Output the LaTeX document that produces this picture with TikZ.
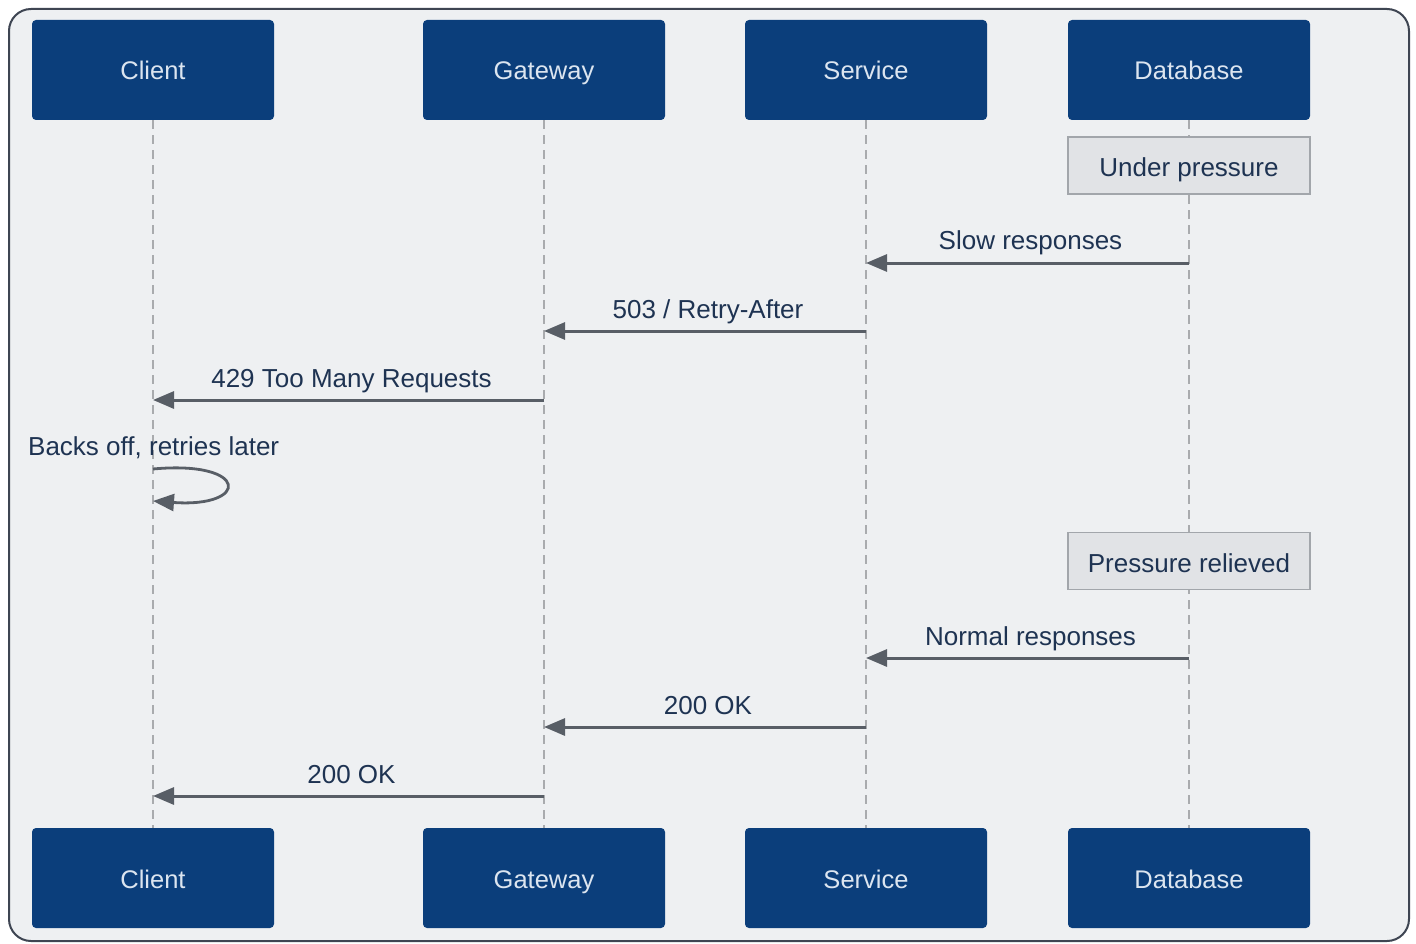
\documentclass[tikz,border=0pt]{standalone}
\usepackage{fontspec}
\setmainfont{Liberation Sans}
\usetikzlibrary{arrows.meta}
\definecolor{navy}{HTML}{0B3E7B}
\definecolor{boxtext}{HTML}{DCE5F0}
\definecolor{panel}{HTML}{EEF0F2}
\definecolor{frameline}{HTML}{3E4552}
\definecolor{msgline}{HTML}{585E66}
\definecolor{msgtext}{HTML}{1E3352}
\definecolor{lifeline}{HTML}{A9ABAE}
\definecolor{notefill}{HTML}{E1E3E6}
\definecolor{noteline}{HTML}{A2A6AB}
\tikzset{
  actor/.style={draw=none, fill=navy, rounded corners=4pt, minimum width=242pt,
    minimum height=100pt, text=boxtext, font=\fontsize{25.5}{30}\selectfont, inner sep=0pt,
    text height=20pt, text depth=0pt},
  notebox/.style={draw=noteline, line width=1.5pt, fill=notefill, minimum width=242pt,
    minimum height=57pt, text=msgtext, font=\fontsize{26}{30}\selectfont, inner sep=0pt,
    text height=22pt, text depth=0pt},
  life/.style={draw=lifeline, line width=1.6pt, dash pattern=on 9pt off 6pt},
  msg/.style={draw=msgline, line width=3pt, -{Triangle[length=21pt,width=17pt]}},
  msglabel/.style={text=msgtext, font=\fontsize{26}{30}\selectfont, inner sep=0pt},
  onarrow/.style={msglabel, anchor=base, yshift=13pt, xshift=3pt}
}
\begin{document}
\begin{tikzpicture}[x=1pt,y=-1pt]
  \useasboundingbox (0,0) rectangle (1416,944);
  \fill[white] (0,0) rectangle (1416,944);
  \draw[frameline, line width=2pt, fill=panel, rounded corners=22pt] (9,9) rectangle (1409,941);

  % participants, top and bottom
  \node[actor] (ct) at (153,70) {Client};
  \node[actor] (gt) at (544,70) {Gateway};
  \node[actor] (st) at (866,70) {Service};
  \node[actor] (dt) at (1189,70) {Database};
  \node[actor] (cb) at (153,878) {Client};
  \node[actor] (gb) at (544,878) {Gateway};
  \node[actor] (sb) at (866,878) {Service};
  \node[actor] (db) at (1189,878) {Database};

  % lifelines
  \draw[life] (ct.south) -- (cb.north);
  \draw[life] (gt.south) -- (gb.north);
  \draw[life] (st.south) -- (sb.north);
  \draw[life] (dt.south) -- (db.north);

  % notes on the database lifeline
  \node[notebox] (n1) at (1189,165.5) {Under pressure};
  \node[notebox] (n2) at (1189,561) {Pressure relieved};

  % anchor points on the lifelines
  \coordinate (d1) at (1189,263); \coordinate (s1) at (866,263);
  \coordinate (s2) at (866,331);  \coordinate (g2) at (544,331);
  \coordinate (g3) at (544,400);  \coordinate (c3) at (153,400);
  \coordinate (c4a) at (153,469); \coordinate (c4b) at (153,501);
  \coordinate (d5) at (1189,658); \coordinate (s5) at (866,658);
  \coordinate (s6) at (866,727);  \coordinate (g6) at (544,727);
  \coordinate (g7) at (544,796);  \coordinate (c7) at (153,796);

  % messages
  \draw[msg] (d1) -- node[onarrow] (l1) {Slow responses} (s1);
  \draw[msg] (s2) -- node[onarrow] (l2) {503 / Retry-After} (g2);
  \draw[msg] (g3) -- node[onarrow] (l3) {429 Too Many Requests} (c3);
  \node[msglabel, anchor=base west] (l4) at (28,455) {Backs off, retries later};
  \draw[msg, line width=2.8pt] (c4a) .. controls (250,460) and (250,508) .. (c4b);
  \draw[msg] (d5) -- node[onarrow] (l5) {Normal responses} (s5);
  \draw[msg] (s6) -- node[onarrow] (l6) {200 OK} (g6);
  \draw[msg] (g7) -- node[onarrow] (l7) {200 OK} (c7);
\end{tikzpicture}
\end{document}
